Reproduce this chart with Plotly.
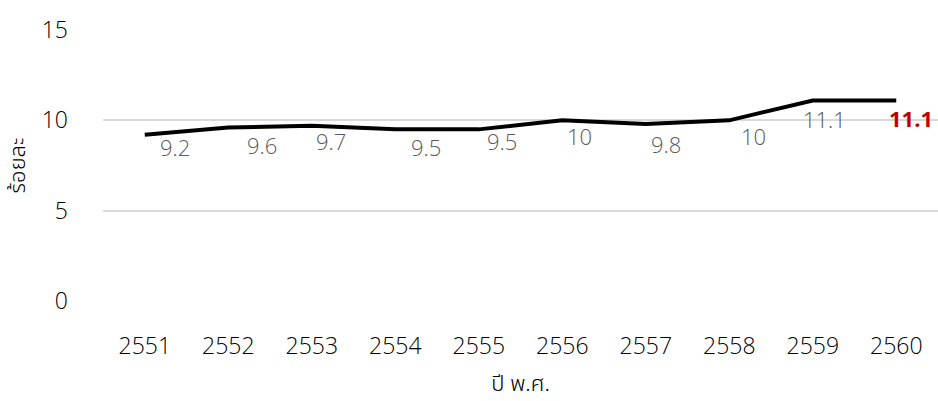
import plotly.graph_objects as go

# Percentage by Buddhist-era year
years = ["2551", "2552", "2553", "2554", "2555", "2556", "2557", "2558", "2559", "2560"]
values = [9.2, 9.6, 9.7, 9.5, 9.5, 10, 9.8, 10, 11.1, 11.1]
label_texts = ["9.2", "9.6", "9.7", "9.5", "9.5", "10", "9.8", "10", "11.1", "11.1"]

y_ticks = [0, 5, 10, 15]
x_title = "ปี พ.ศ."
y_title = "ร้อยละ"

# Label placement (pixel offsets from each point)
label_dx = [30, 34, 19, 31, 23, 17, 20, 24, 12, 15]
label_dy = [-12, -17, -15, -18, -12, -16, -20, -16, -19, -18]

FONT = "Open Sans, Noto Sans, sans-serif"
THAI_FONT = "Noto Sans Thai, Noto Sans Thai Looped, Loma, Garuda, Open Sans, sans-serif"
SIZE = 23

fig = go.Figure()
fig.add_trace(go.Scatter(
    x=years, y=values, mode="lines",
    line=dict(color="#000000", width=4),
    hoverinfo="skip", showlegend=False,
))

n = len(years)
for i, (v, t) in enumerate(zip(values, label_texts)):
    last = i == n - 1
    # category axis: annotations addressed by category index
    fig.add_annotation(
        x=i, y=v, text=f"<b>{t}</b>" if last else t,
        showarrow=False, xanchor="center", yanchor="middle",
        xshift=label_dx[i], yshift=label_dy[i],
        font=dict(family=FONT, size=SIZE - 1, color="#C00000" if last else "#595959",
                  weight=700 if last else 300),
    )

fig.update_layout(
    width=938, height=401,
    margin=dict(l=103, r=0, t=30, b=100),
    paper_bgcolor="white", plot_bgcolor="white",
    font=dict(family=FONT, size=SIZE, color="#000000", weight=300),
    xaxis=dict(
        type="category", categoryorder="array", categoryarray=years,
        range=[-0.5, n - 0.5],
        showgrid=False, zeroline=False, showline=False, ticks="",
        ticklabelstandoff=29,
        tickfont=dict(family=FONT, size=SIZE, color="#000000", weight=300),
        title=dict(text=x_title, font=dict(family=THAI_FONT, size=SIZE - 1, color="#000000", weight=300),
                   standoff=16),
    ),
    yaxis=dict(
        range=[0, 15], tickvals=y_ticks, showgrid=True, gridcolor="#D9D9D9", gridwidth=1.5,
        zeroline=False, showline=False, ticks="",
        ticklabelstandoff=34,
        tickfont=dict(family=FONT, size=SIZE, color="#000000", weight=300),
        title=dict(text=y_title, font=dict(family=THAI_FONT, size=SIZE - 1, color="#000000", weight=300),
                   standoff=10),
    ),
)

fig.write_html("out.html")
